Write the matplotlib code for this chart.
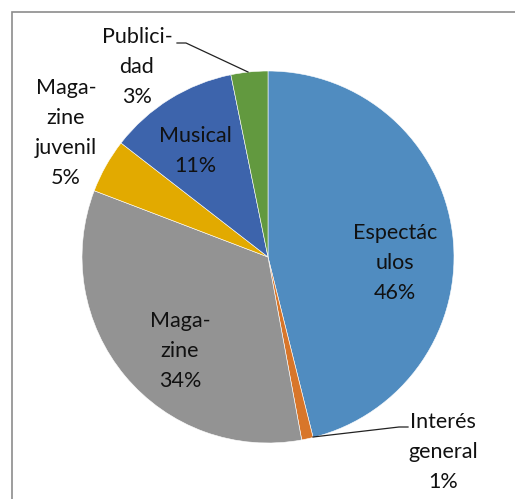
import matplotlib
matplotlib.use("Agg")
import matplotlib.pyplot as plt
from matplotlib.patches import Rectangle

categories = ["Espectáculos", "Interés general", "Magazine", "Magazine juvenil", "Musical", "Publicidad"]
values = [46.1, 1.0, 33.7, 4.7, 11.3, 3.2]
label_text = ["Espectác\nulos", "Interés\ngeneral", "Maga-\nzine", "Maga-\nzine\njuvenil", "Musical", "Publici-\ndad"]
colors = ["#508CC0", "#D8762A", "#939393", "#E2AA00", "#3D64AC", "#62993F"]

# label centres in pixel coords (y from top)
label_pos = [(395, 263), (443, 452), (180, 351), (66, 133), (195, 151), (137, 67)]

W, H = 515, 499
fig = plt.figure(figsize=(W / 100, H / 100), dpi=100)
ax = fig.add_axes([0, 0, 1, 1])
ax.set_xlim(0, W)
ax.set_ylim(0, H)
ax.axis("off")

ax.add_patch(Rectangle((12, -20), 540, H - 12 + 20, fill=False, edgecolor="#8c8c8c", lw=1.2))

ax.pie(values, colors=colors, startangle=90, counterclock=False,
       center=(268, H - 257), radius=186,
       wedgeprops=dict(edgecolor="white", linewidth=0.4))
ax.set_xlim(0, W)
ax.set_ylim(0, H)
ax.set_aspect("equal")

for txt, v, (x, y) in zip(label_text, values, label_pos):
    ax.text(x, H - y, f"{txt}\n{round(v):d}%", ha="center", va="center",
            fontsize=15.5, family="Lato", color="#111111", linespacing=1.62)

# leader lines
ax.plot([177, 186, 248], [H - 43, H - 43, H - 72], color="#222222", lw=0.9)
ax.plot([408, 399, 313], [H - 427, H - 427, H - 437], color="#222222", lw=0.9)

fig.savefig("out.png", dpi=100)
